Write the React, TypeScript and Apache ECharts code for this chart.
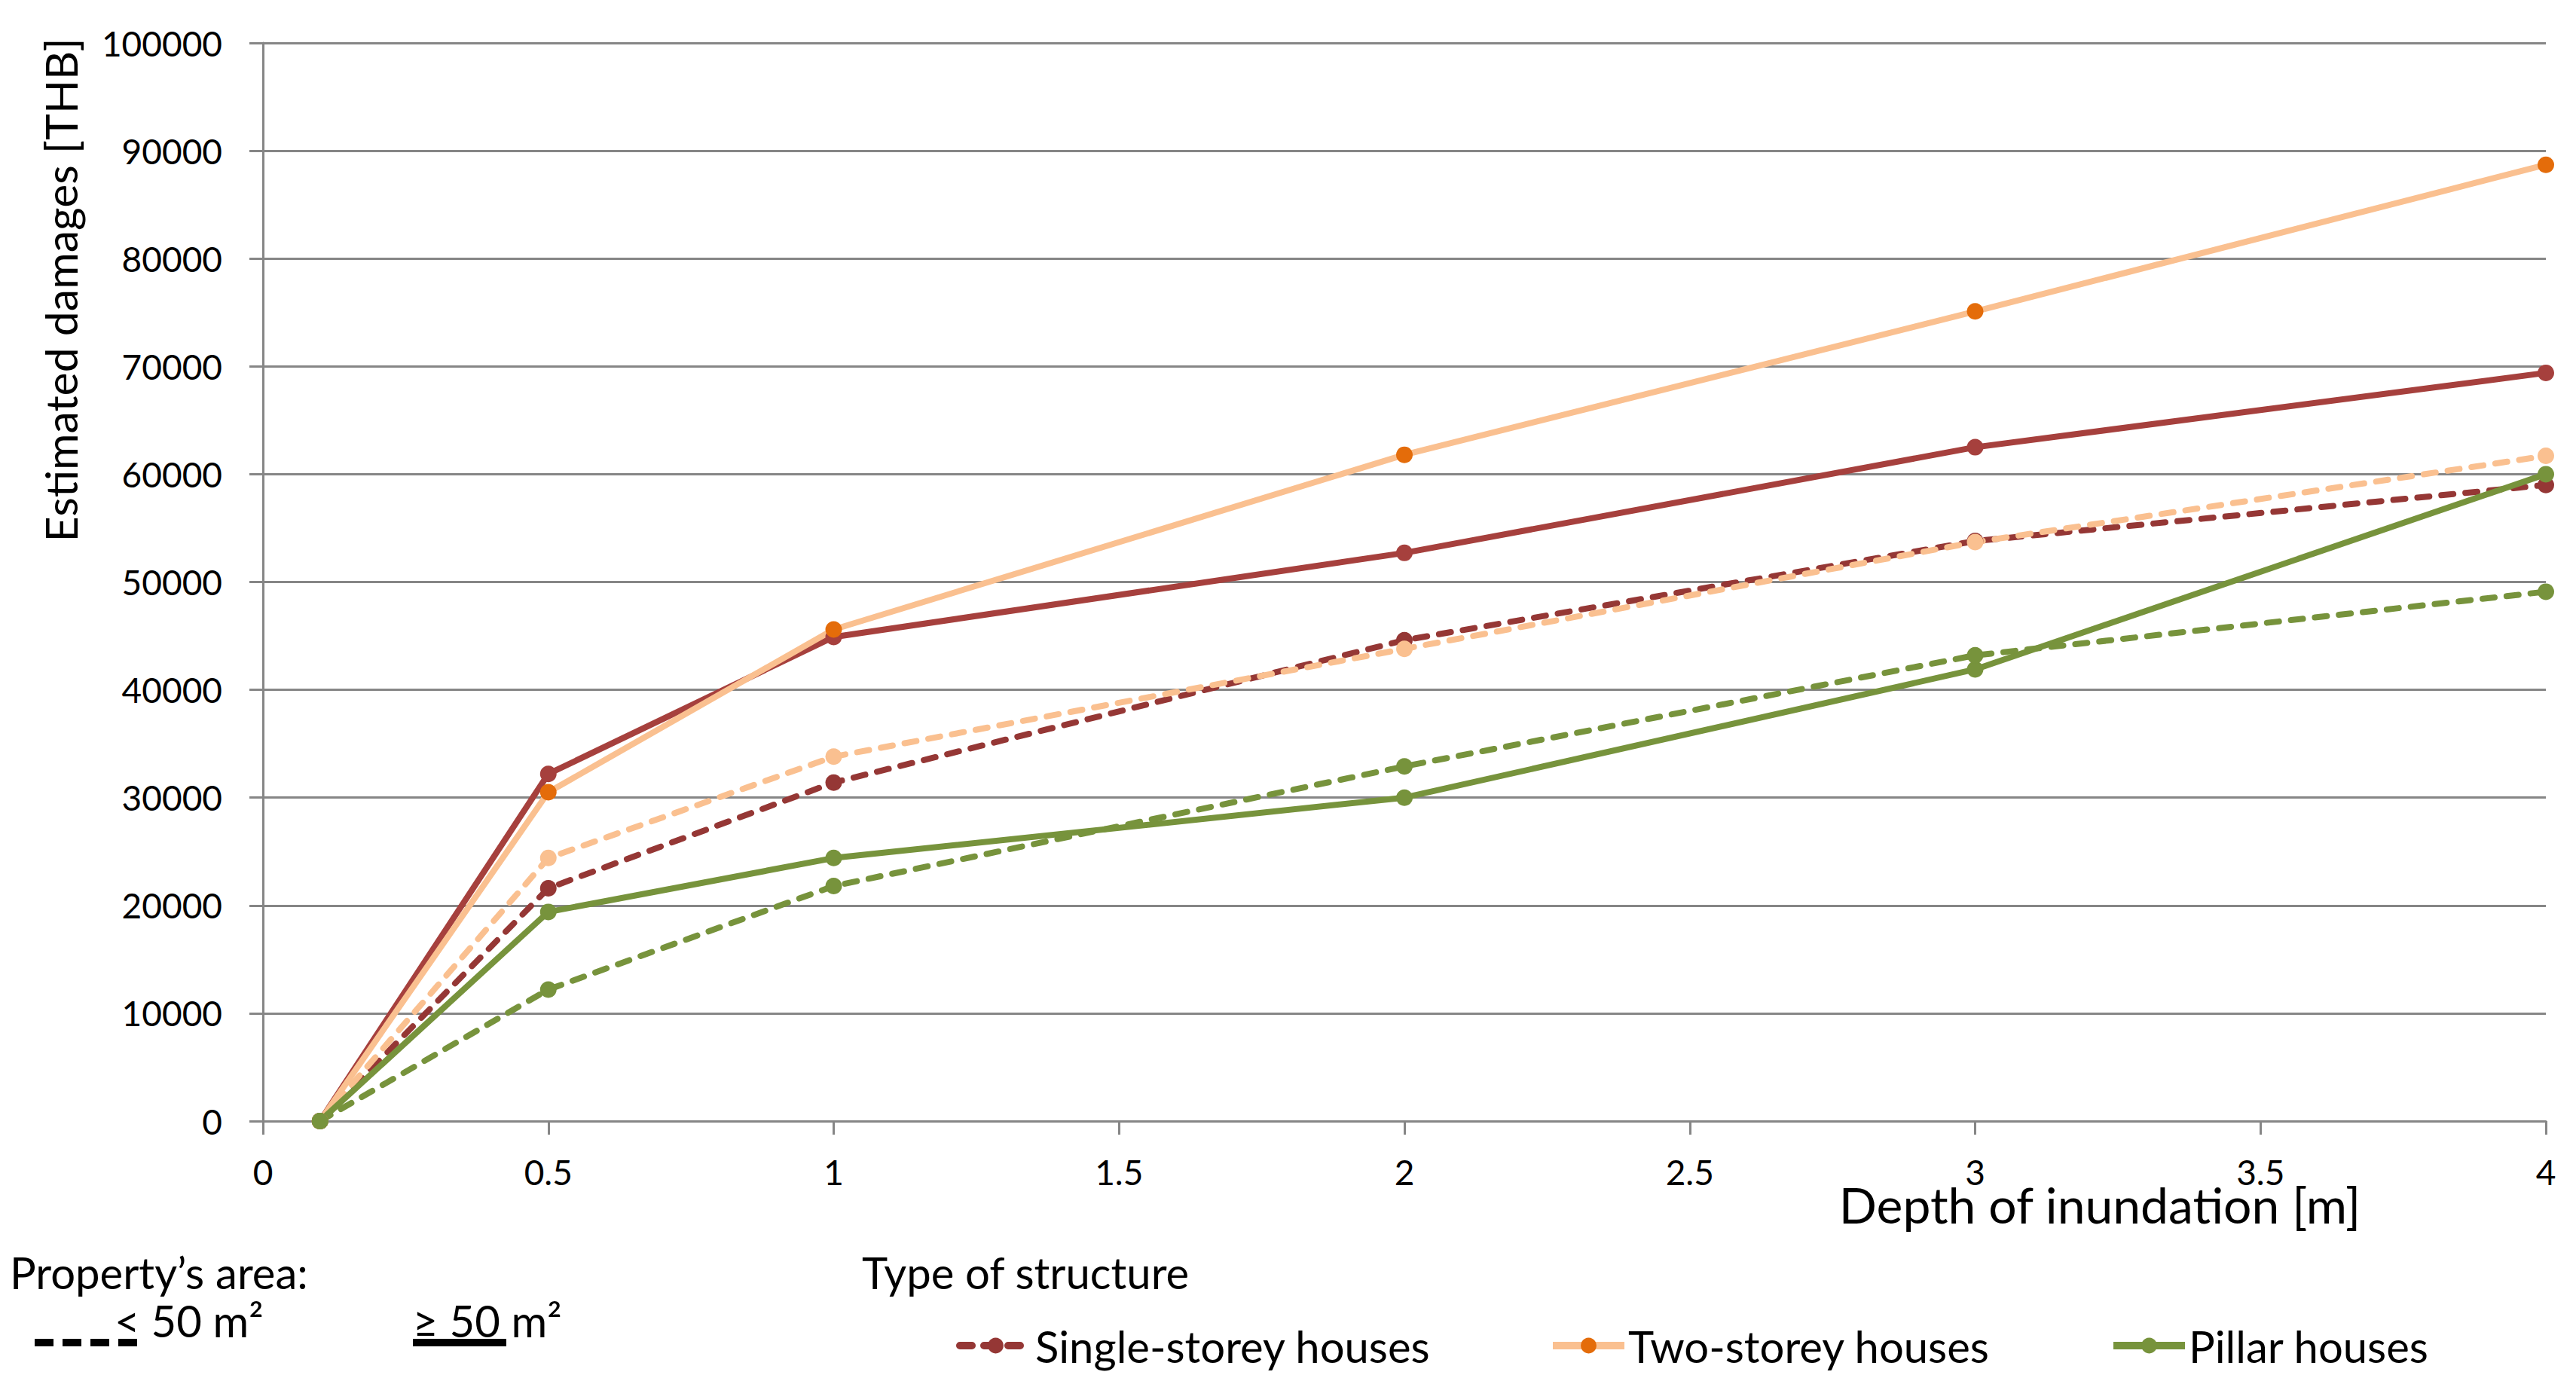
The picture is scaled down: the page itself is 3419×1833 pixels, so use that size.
import React, { useEffect, useRef } from "react";
import * as echarts from "echarts";

const depth = [0.1, 0.5, 1, 2, 3, 4];
const singleLarge = [0, 32200, 44900, 52700, 62500, 69400];
const singleSmall = [0, 21600, 31400, 44600, 53800, 59000];
const twoLarge = [0, 30500, 45600, 61800, 75100, 88700];
const twoSmall = [0, 24400, 33800, 43800, 53700, 61700];
const pillarLarge = [0, 19400, 24400, 30000, 41900, 60000];
const pillarSmall = [0, 12200, 21800, 32900, 43200, 49100];

const FONT = "Lato";
const GRAY = "#868686";

const pairs = (ys: number[]) => depth.map((x, i) => [x, ys[i]]);

export default function App() {
  const ref = useRef<HTMLDivElement>(null);
  useEffect(() => {
    const chart = echarts.init(ref.current!, null, { renderer: "svg" });
    const dash = [16, 16];
    const mk = (
      name: string,
      ys: number[],
      lineColor: string,
      markColor: string,
      dashed: boolean
    ) => ({
      name,
      type: "line",
      data: pairs(ys),
      symbol: "circle",
      symbolSize: 22,
      showAllSymbol: true,
      lineStyle: {
        color: lineColor,
        width: 8,
        type: dashed ? dash : "solid",
        cap: dashed ? "round" : "butt",
      },
      itemStyle: { color: markColor },
      emphasis: { disabled: true },
    });
    const legendCommon = {
      top: 1752,
      itemWidth: 95,
      itemHeight: 26,
      lineStyle: { width: 10 },
      textStyle: { fontFamily: FONT, fontSize: 58, color: "#000" },
      selectedMode: false,
    };
    chart.setOption({
      animation: false,
      backgroundColor: "#fff",
      grid: { left: 349, right: 40, top: 57, bottom: 345, containLabel: false },
      xAxis: {
        type: "value",
        min: 0,
        max: 4,
        interval: 0.5,
        axisLine: { show: true, onZero: false, lineStyle: { color: GRAY, width: 3 } },
        axisTick: { show: true, length: 18, lineStyle: { color: GRAY, width: 3 } },
        axisLabel: { margin: 44, fontFamily: FONT, fontSize: 46, color: "#000" },
        splitLine: { show: false },
      },
      yAxis: {
        type: "value",
        min: 0,
        max: 100000,
        interval: 10000,
        axisLine: { show: true, lineStyle: { color: GRAY, width: 3 } },
        axisTick: { show: true, length: 18, lineStyle: { color: GRAY, width: 3 } },
        axisLabel: {
          margin: 54,
          fontFamily: FONT,
          fontSize: 46,
          color: "#000",
          formatter: (v: number) => String(v),
        },
        splitLine: { show: true, lineStyle: { color: GRAY, width: 3 } },
      },
      legend: [
        { ...legendCommon, left: 1264, data: ["Single-storey houses"] },
        { ...legendCommon, left: 2051, data: ["Two-storey houses"] },
        { ...legendCommon, left: 2795, data: ["Pillar houses"] },
      ],
      series: [
        mk("Single-storey houses ≥ 50 m²", singleLarge, "#A6403D", "#A6403D", false),
        mk("Single-storey houses", singleSmall, "#953735", "#953735", true),
        mk("Two-storey houses", twoLarge, "#FAC090", "#E46C0A", false),
        mk("Two-storey houses < 50 m²", twoSmall, "#FAC090", "#FAC090", true),
        mk("Pillar houses", pillarLarge, "#77933C", "#77933C", false),
        mk("Pillar houses < 50 m²", pillarSmall, "#77933C", "#77933C", true),
      ],
      graphic: [
        {
          type: "text",
          x: 80,
          y: 385,
          rotation: Math.PI / 2,
          style: {
            text: "Estimated damages [THB]",
            font: `59px ${FONT}`,
            fill: "#000",
            textAlign: "center",
            textVerticalAlign: "middle",
          },
        },
        {
          type: "text",
          x: 2787,
          y: 1598,
          style: {
            text: "Depth of inundation [m]",
            font: `66px ${FONT}`,
            fill: "#000",
            textAlign: "center",
            textVerticalAlign: "middle",
          },
        },
        {
          type: "text",
          x: 13,
          y: 1688,
          style: {
            text: "Property’s area:",
            font: `58px ${FONT}`,
            fill: "#000",
            textAlign: "left",
            textVerticalAlign: "middle",
          },
        },
        {
          type: "text",
          x: 1144,
          y: 1688,
          style: {
            text: "Type of structure",
            font: `58px ${FONT}`,
            fill: "#000",
            textAlign: "left",
            textVerticalAlign: "middle",
          },
        },
        {
          type: "text",
          x: 152,
          y: 1752,
          style: {
            text: "< 50 m²",
            font: `58px ${FONT}`,
            fill: "#000",
            textAlign: "left",
            textVerticalAlign: "middle",
          },
        },
        {
          type: "line",
          shape: { x1: 46, y1: 1782, x2: 182, y2: 1782 },
          style: { stroke: "#000", lineWidth: 10, lineDash: [25, 12] },
        },
        {
          type: "text",
          x: 548,
          y: 1752,
          style: {
            text: "≥ 50 m²",
            font: `58px ${FONT}`,
            fill: "#000",
            textAlign: "left",
            textVerticalAlign: "middle",
          },
        },
        {
          type: "line",
          shape: { x1: 548, y1: 1782, x2: 672, y2: 1782 },
          style: { stroke: "#000", lineWidth: 10 },
        },
      ],
    });
    return () => chart.dispose();
  }, []);
  return (
    <div
      ref={ref}
      style={{ position: "absolute", left: 0, top: 0, width: 3419, height: 1833 }}
    />
  );
}
